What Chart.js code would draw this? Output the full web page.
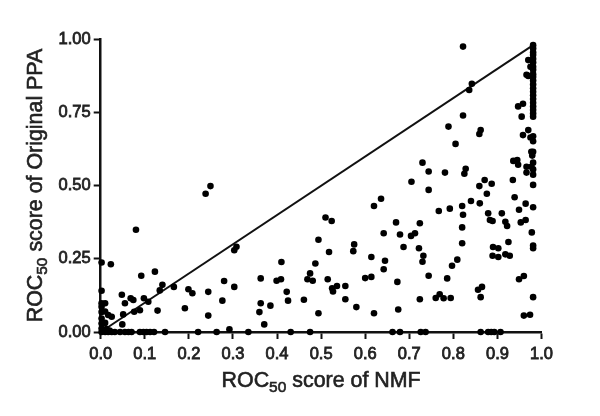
<!DOCTYPE html>
<html>
<head>
<meta charset="utf-8">
<style>
  html, body { margin: 0; padding: 0; background: #fff; }
  #wrap { width: 600px; height: 416px; position: relative; }
  #grafico { filter: blur(0.45px); }
</style>
<script src="https://cdn.jsdelivr.net/npm/chart.js@4/dist/chart.umd.min.js"></script>
</head>
<body>
<div id="wrap"><canvas id="grafico" width="600" height="416"></canvas></div>
<script>
    // Valores (pares x, y na mesma ordem)
    const pontosX = [
        .238,.249,.080,.002,.023,.092,.123,.140,.134,.166,.199,.208,.244,.280,.303,.308,.303,.276,.191,.244,
        .292,.129,.089,.076,.108,.098,.074,.068,.048,.055,.051,.049,.025,.017,.010,.010,.013,.020,.010,
        .363,.363,.360,.385,.371,.410,.399,.409,.422,.425,.461,.475,.469,.481,.487,.494,.494,
        .510,.524,.518,.515,.525,.527,.536,.555,.555,.580,.573,.575,.614,.600,.614,.620,.636,.642,.645,.642,.620,
        .673,.675,.670,.679,.687,.704,.713,.724,.722,.732,.730,.744,.724,.705,.744,.767,.792,.760,.769,.778,.794,
        .786,.797,.809,.820,.820,.822,.820,.840,.860,.859,.871,.887,.876,.879,.883,.889,.910,.918,.922,.925,
        .890,.902,.889,.902,.918,.928,.856,.865,.862,.949,.960,.960,.974,.978,.939,.949,.953,.964,.964,.935,
        .822,.842,.836,.822,.789,.862,.859,.805,.947,.958,.955,.970,.958,.975,.977,.979,.936,.945,.947,.966,
        .977,.966,.730,.744,.781,.828,.825,.970,.975,.970,.966
    ];
    const pontosY = [
        .472,.498,.349,.237,.231,.192,.206,.161,.142,.154,.146,.132,.137,.174,.154,.291,.279,.107,.081,.056,
        .009,.073,.074,.069,.103,.115,.109,.115,.127,.098,.060,.026,.052,.058,.098,.070,.010,.005,.031,
        .183,.098,.068,.090,.026,.239,.175,.180,.137,.107,.110,.200,.180,.175,.234,.315,.064,
        .391,.379,.273,.180,.149,.138,.157,.157,.112,.085,.276,.299,.256,.184,.188,.430,.455,.337,.243,.214,.064,
        .171,.077,.374,.333,.290,.328,.337,.371,.286,.260,.240,.192,.112,.513,.485,.413,.421,.116,.129,.115,.116,
        .183,.226,.247,.303,.357,.400,.430,.447,.439,.498,.519,.506,.472,.405,.382,.379,.405,.376,.362,.307,
        .290,.286,.260,.256,.265,.260,.144,.154,.119,.180,.191,.056,.059,.340,.460,.417,.374,.382,.438,.519,
        .974,.847,.826,.739,.701,.689,.676,.642,.770,.779,.735,.689,.672,.664,.615,.602,.584,.587,.571,.564,
        .564,.544,.578,.548,.544,.557,.540,.928,.905,.874,.878
    ];
    // Pontos sobre o eixo horizontal (y = 0)
    const linhaZeroX = [
        .002,.010,.017,.025,.032,.044,.055,.063,.070,.089,.097,.104,.112,.121,.146,.221,.263,.335,.431,.475,
        .662,.679,.726,.737,.862,.879,.886,.893,.907
    ];
    // Coluna da esquerda (x = 0.002) e coluna da direita (x = 0.981)
    const colunaEsquerdaY = [.141,.098,.086,.068,.046,.029,.012];
    const colunaDireitaY = [
        .979,.968,.955,.945,.932,.920,.905,.895,.880,.870,.858,.845,.832,.820,.808,.795,.782,.770,.758,.746,.735,
        .668,.651,.615,.578,.555,.537,.502,.426,.295,.286,.119
    ];
    const diagonalX = [0, .981];
    const diagonalY = [0, .979];
    const xTickLabels = ['0.0','0.1','0.2','0.3','0.4','0.5','0.6','0.7','0.8','0.9','1.0'];
    const yTickLabels = ['0.00','0.25','0.50','0.75','1.00'];

    const pontos = pontosX.map((x, i) => ({ x: x, y: pontosY[i] }))
        .concat(linhaZeroX.map(x => ({ x: x, y: 0 })))
        .concat(colunaEsquerdaY.map(y => ({ x: .002, y: y })))
        .concat(colunaDireitaY.map(y => ({ x: .981, y: y })));

    const corTexto = '#222';
    const fonteTitulo = '21.4px "Liberation Sans"';
    const fonteSub = '15.5px "Liberation Sans"';

    // Título com subscrito: desenha "ROC", "50" e o resto em sequência
    function tituloSubscrito(ctx, resto) {
        const partes = [['ROC', fonteTitulo, 0], ['50', fonteSub, 5], [resto, fonteTitulo, 0]];
        let largura = 0;
        partes.forEach(p => { ctx.font = p[1]; largura += ctx.measureText(p[0]).width; });
        let x = -largura / 2;
        partes.forEach(p => {
            ctx.font = p[1];
            ctx.fillText(p[0], x, p[2]);
            ctx.strokeText(p[0], x, p[2]);
            x += ctx.measureText(p[0]).width;
        });
    }

    const titulosEixos = {
        id: 'titulosEixos',
        afterDraw(chart) {
            const { ctx, chartArea } = chart;
            ctx.save();
            ctx.fillStyle = corTexto;
            ctx.strokeStyle = corTexto;
            ctx.lineWidth = .6;
            ctx.textBaseline = 'alphabetic';
            ctx.textAlign = 'left';
            ctx.save();
            ctx.translate((chartArea.left + chartArea.right) / 2 - 0, 387);
            tituloSubscrito(ctx, ' score of NMF');
            ctx.restore();
            ctx.save();
            ctx.translate(42, (chartArea.top + chartArea.bottom) / 2 - 0);
            ctx.rotate(-Math.PI / 2);
            tituloSubscrito(ctx, ' score of Original PPA');
            ctx.restore();
            ctx.restore();
        }
    };

    const fonteTicks = { family: 'Liberation Sans', size: 16.5 };

    new Chart(document.getElementById('grafico').getContext('2d'), {
        type: 'scatter',
        data: {
            datasets: [{
                data: pontos,
                backgroundColor: '#000',
                borderWidth: 0,
                pointRadius: 3.3,
                clip: false,
                order: 1
            }, {
                type: 'line',
                data: diagonalX.map((x, i) => ({ x: x, y: diagonalY[i] })),
                borderColor: '#111',
                borderWidth: 2,
                pointRadius: 0,
                clip: false,
                order: 2
            }]
        },
        options: {
            responsive: false,
            animation: false,
            layout: { padding: { left: 0, right: 58.5, top: 39, bottom: 0 } },
            plugins: { legend: { display: false }, tooltip: { enabled: false } },
            scales: {
                x: {
                    type: 'linear', min: 0, max: 1,
                    afterFit(scale) { scale.height = 84; },
                    ticks: {
                        stepSize: .1, autoSkip: false, maxRotation: 0, padding: 6, color: corTexto,
                        textStrokeColor: corTexto, textStrokeWidth: .8,
                        font: fonteTicks,
                        callback: (v, i) => xTickLabels[i]
                    },
                    grid: { drawOnChartArea: false, tickLength: 7, tickWidth: 2, tickColor: '#111' },
                    border: { color: '#111', width: 2.5 }
                },
                y: {
                    type: 'linear', min: 0, max: 1,
                    afterFit(scale) { scale.width = 100.7; },
                    ticks: {
                        stepSize: .25, autoSkip: false, padding: 3, color: corTexto,
                        textStrokeColor: corTexto, textStrokeWidth: .8,
                        font: fonteTicks,
                        callback: (v, i) => yTickLabels[i]
                    },
                    grid: { drawOnChartArea: false, tickLength: 7, tickWidth: 2, tickColor: '#111' },
                    border: { color: '#111', width: 2.5 }
                }
            }
        },
        plugins: [titulosEixos]
    });
</script>
</body>
</html>
